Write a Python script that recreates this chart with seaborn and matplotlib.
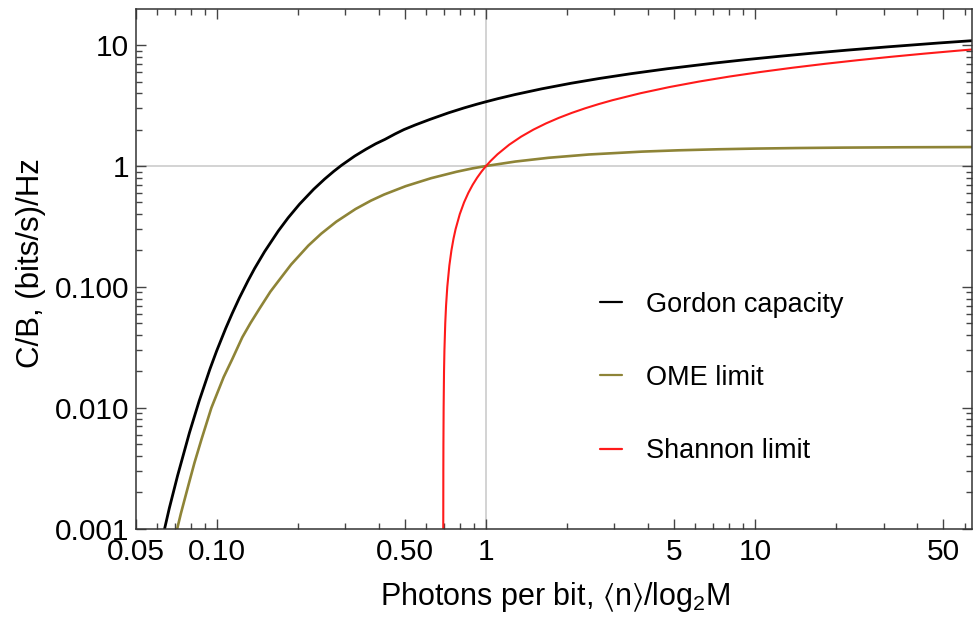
import matplotlib
matplotlib.use("Agg")
import matplotlib.pyplot as plt
import matplotlib.ticker as mticker
import seaborn as sns
import pandas as pd

# ---- data (x = photons per bit, y = C/B) ----
gordon_x = [0.0634, 0.0665, 0.0714, 0.0790, 0.0859, 0.0941, 0.0997, 0.1078, 0.1139, 0.1211,
            0.1305, 0.1380, 0.1503, 0.1690, 0.1839, 0.2027, 0.2288, 0.2513, 0.2715, 0.2902,
            0.3250, 0.3580, 0.389, 0.4213, 0.459, 0.4950, 0.546, 0.618, 0.726, 0.8275,
            0.9245, 1.000, 1.108, 1.282, 1.610, 2.068, 2.641, 3.449, 4.707, 7.04,
            9.232, 12.36, 16.32, 22.0, 31.02, 48.0, 69.8]
gordon_y = [0.000928, 0.001473, 0.002746, 0.006204, 0.01141, 0.02082, 0.02948, 0.04545, 0.06024, 0.08094,
            0.1127, 0.1420, 0.1957, 0.2900, 0.3730, 0.4835, 0.6424, 0.780, 0.9024, 1.013,
            1.2084, 1.377, 1.5271, 1.662, 1.8412, 2.000, 2.1869, 2.427, 2.755, 3.021,
            3.2451, 3.402, 3.6096, 3.90, 4.3485, 4.835, 5.300, 5.799, 6.373, 7.10,
            7.582, 8.09, 8.577, 9.09, 9.672, 10.41, 11.03]

ome_x = [0.0685, 0.0709, 0.0734, 0.0790, 0.0825, 0.0876, 0.0953, 0.1059, 0.1139, 0.1242,
         0.1332, 0.1442, 0.1579, 0.1701, 0.1886, 0.2186, 0.2440, 0.2775, 0.3274, 0.3734,
         0.4178, 0.5032, 0.6246, 0.777, 0.8868, 1.000, 1.286, 1.7095, 2.4094, 3.8018,
         5.191, 7.2725, 10.047, 14.207, 21.14, 35.0, 69.66]
ome_y = [0.000714, 0.000966, 0.001329, 0.002458, 0.003511, 0.005483, 0.009967, 0.01794, 0.02516, 0.03826,
         0.05018, 0.06658, 0.09121, 0.11345, 0.15305, 0.2196, 0.2754, 0.3459, 0.4408, 0.5170,
         0.5805, 0.6816, 0.7925, 0.8961, 0.9537, 1.000, 1.0887, 1.1699, 1.2451, 1.3152,
         1.3485, 1.3750, 1.3935, 1.4078, 1.4192, 1.4285, 1.4355]

shannon_x = [0.69339, 0.69387, 0.69435, 0.6956, 0.69795, 0.70040, 0.7053, 0.71024, 0.71773, 0.73048,
             0.74349, 0.75683, 0.77048, 0.79877, 0.82843, 0.85953, 0.89215, 0.92638, 0.96230, 1.000,
             1.03959, 1.10273, 1.21895, 1.35062, 1.500, 1.66970, 1.86274, 2.08261, 2.3333, 2.61959,
             2.9468, 3.750, 4.806, 6.200, 8.046, 10.50, 13.771, 18.143, 24.00, 31.875,
             42.48, 56.78, 71.77]
shannon_y = [0.001, 0.003, 0.005, 0.01, 0.02, 0.03, 0.05, 0.07, 0.1, 0.15,
             0.2, 0.25, 0.3, 0.4, 0.5, 0.6, 0.7, 0.8, 0.9, 1.0,
             1.1, 1.25, 1.5, 1.75, 2.0, 2.25, 2.5, 2.75, 3.0, 3.25,
             3.5, 4.0, 4.5, 5.0, 5.5, 6.0, 6.5, 7.0, 7.5, 8.0,
             8.5, 9.0, 9.4]

series_names = ["Gordon capacity", "OME limit", "Shannon limit"]
series_colors = ["#000000", "#8E8437", "#FF1A1A"]
series_widths = [2.0, 1.9, 1.5]

x_ticks = [0.05, 0.10, 0.50, 1, 5, 10, 50]
x_ticklabels = ["0.05", "0.10", "0.50", "1", "5", "10", "50"]
y_ticks = [0.001, 0.01, 0.1, 1, 10]
y_ticklabels = ["0.001", "0.010", "0.100", "1", "10"]

frames = []
for name, xs, ys in zip(series_names, [gordon_x, ome_x, shannon_x],
                        [gordon_y, ome_y, shannon_y]):
    frames.append(pd.DataFrame({"x": xs, "y": ys, "series": name}))
df = pd.concat(frames, ignore_index=True)

sns.set_style("ticks")
plt.rcParams["font.family"] = ["Liberation Sans", "DejaVu Sans"]
plt.rcParams["mathtext.fontset"] = "custom"
plt.rcParams["mathtext.rm"] = "Liberation Sans"
plt.rcParams["mathtext.it"] = "Liberation Sans"
plt.rcParams["mathtext.fallback"] = "stixsans"
plt.rcParams["text.color"] = "black"
plt.rcParams["axes.labelcolor"] = "black"
plt.rcParams["xtick.labelcolor"] = "black"
plt.rcParams["ytick.labelcolor"] = "black"

fig = plt.figure(figsize=(9.74, 6.25), dpi=100)
ax = fig.add_axes([0.1396, 0.1542, 0.998 - 0.1396, 0.9856 - 0.1542])

ax.set_xscale("log")
ax.set_yscale("log")

# reference grid lines at 1
ax.axvline(1, color="#c8c8c8", lw=1.1, zorder=0)
ax.axhline(1, color="#c8c8c8", lw=1.1, zorder=0)

for name, col, lw in zip(series_names, series_colors, series_widths):
    sns.lineplot(data=df[df["series"] == name], x="x", y="y", ax=ax, color=col,
                 lw=lw, estimator=None, sort=False, label=name)

ax.set_xlim(0.05, 64)
ax.set_ylim(0.001, 19.9)

ax.set_xticks(x_ticks)
ax.set_xticklabels(x_ticklabels)
ax.set_yticks(y_ticks)
ax.set_yticklabels(y_ticklabels)
ax.xaxis.set_minor_locator(mticker.LogLocator(base=10, subs=range(2, 10), numticks=20))
ax.yaxis.set_minor_locator(mticker.LogLocator(base=10, subs=range(2, 10), numticks=20))
ax.xaxis.set_minor_formatter(mticker.NullFormatter())
ax.yaxis.set_minor_formatter(mticker.NullFormatter())

ax.tick_params(which="both", direction="in", top=True, right=True,
               color="#444444", width=1.0, labelsize=21.5, labelcolor="black")
ax.tick_params(axis="x", which="both", pad=7)
ax.tick_params(axis="y", which="both", pad=5)
ax.tick_params(which="major", length=7)
ax.tick_params(which="minor", length=4)

for sp in ax.spines.values():
    sp.set_color("#333333")
    sp.set_linewidth(1.1)

ax.set_xlabel(r"Photons per bit, $\langle$n$\rangle$/log$_2$M", fontsize=22)
ax.set_ylabel("C/B, (bits/s)/Hz", fontsize=22.5)
ax.xaxis.set_label_coords(0.502, -0.098)
ax.yaxis.set_label_coords(-0.108, 0.51)

leg = ax.legend(loc="center left", bbox_to_anchor=(0.555, 0.29), frameon=False,
                fontsize=19.5, handlelength=0.8, handletextpad=0.9,
                labelspacing=1.75, borderpad=0, borderaxespad=0)
for line in leg.get_lines():
    line.set_linewidth(1.6)
for t in leg.get_texts():
    t.set_color("black")

fig.savefig("out.png", dpi=100)
